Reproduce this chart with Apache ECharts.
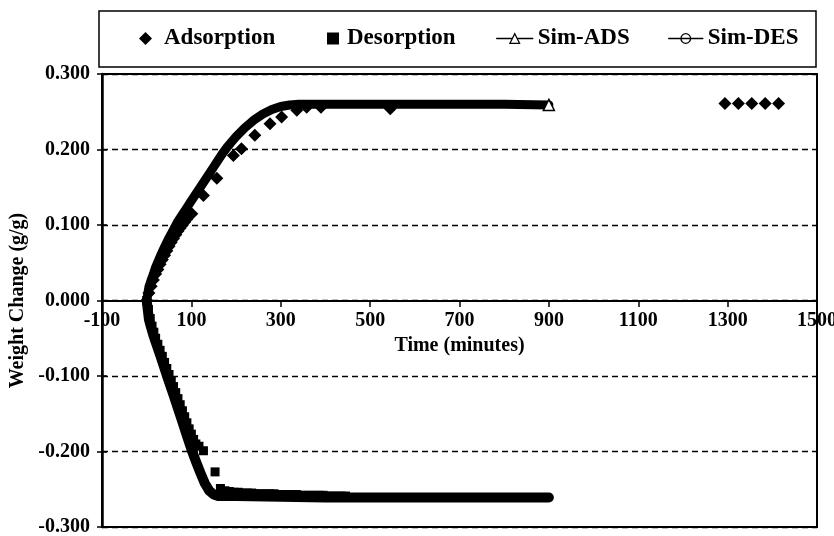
<!DOCTYPE html>
<html>
<head>
<meta charset="utf-8">
<script src="https://cdn.jsdelivr.net/npm/echarts@6/dist/echarts.min.js"></script>
<style>html,body{margin:0;padding:0;background:#fff}#c{width:834px;height:536px}</style>
</head>
<body>
<div id="c"></div>
<script>
// ---- data ----
var xTicks = [-100, 100, 300, 500, 700, 900, 1100, 1300, 1500];
var yTicks = [-0.3, -0.2, -0.1, 0, 0.1, 0.2, 0.3];

var adsT = [0,5,10,15,20,25,30,35,40,45,50,55,60,65,70,75,80,85,90,101,127,157,194,212,242,276,302,336,358,390,545,1294,1324,1354,1384,1414];
var adsW = [0,0.010,0.019,0.027,0.035,0.041,0.048,0.054,0.060,0.066,0.072,0.077,0.082,0.087,0.092,0.096,0.100,0.104,0.108,0.115,0.139,0.162,0.192,0.201,0.219,0.234,0.243,0.252,0.256,0.256,0.254,0.261,0.261,0.261,0.261,0.261];

var desT = [0,4,8,12,16,20,25,30,35,40,45,50,55,60,65,70,75,80,85,90,95,100,105,110,117,127,153,165,175,185,195,205,215,225,235,245,255,265,275,285,295,305,315,325,335,345,355,365,375,385,395,405,415,425,435,445];
var desW = [0,-0.012,-0.024,-0.034,-0.042,-0.050,-0.058,-0.066,-0.074,-0.082,-0.090,-0.098,-0.106,-0.114,-0.122,-0.130,-0.138,-0.146,-0.154,-0.162,-0.170,-0.177,-0.184,-0.190,-0.193,-0.199,-0.227,-0.249,-0.252,-0.253,-0.254,-0.254,-0.255,-0.255,-0.255,-0.256,-0.256,-0.256,-0.256,-0.256,-0.257,-0.257,-0.257,-0.257,-0.257,-0.258,-0.258,-0.258,-0.258,-0.258,-0.258,-0.259,-0.259,-0.259,-0.259,-0.259];

var simAdsT = [0,5,10,15,20,30,40,50,60,70,80,90,100,110,120,130,140,150,160,170,180,190,200,210,220,230,240,250,260,270,280,290,300,320,340,360,400,500,600,700,800,900];
var simAdsW = [0,0.018,0.027,0.035,0.044,0.058,0.071,0.083,0.094,0.105,0.114,0.123,0.132,0.141,0.150,0.159,0.168,0.177,0.186,0.195,0.203,0.210,0.217,0.223,0.229,0.234,0.239,0.243,0.247,0.250,0.253,0.255,0.257,0.259,0.260,0.260,0.260,0.260,0.260,0.260,0.260,0.259];

var simDesT = [0,5,10,15,20,30,40,50,60,70,80,90,100,110,120,130,140,150,160,200,300,400,600,900];
var simDesW = [0,-0.025,-0.036,-0.046,-0.055,-0.072,-0.090,-0.108,-0.125,-0.143,-0.161,-0.179,-0.197,-0.213,-0.228,-0.242,-0.252,-0.257,-0.259,-0.259,-0.260,-0.261,-0.261,-0.261];

var names = ['Adsorption', 'Desorption', 'Sim-ADS', 'Sim-DES'];

function pairs(t, w) { return t.map(function (v, i) { return [v, w[i]]; }); }

var FONT = 'Liberation Serif';
var txt = { fontFamily: FONT, fontWeight: 'bold', fontSize: 20, color: '#000' };
var legTxt = { fontFamily: FONT, fontWeight: 'bold', fontSize: 23, color: '#000' };

var simAdsData = simAdsT.map(function (t, i) {
  if (i === simAdsT.length - 1) return { value: [t, simAdsW[i]], symbol: 'triangle', symbolSize: 11 };
  return { value: [t, simAdsW[i]], symbol: 'none' };
});
var simDesData = simDesT.map(function (t, i) {
  return { value: [t, simDesW[i]], symbol: 'none' };
});

var chart = echarts.init(document.getElementById('c'), null, { renderer: 'canvas' });
chart.setOption({
  animation: false,
  backgroundColor: '#fff',
  grid: { left: 102, right: 17, top: 74, bottom: 9, containLabel: false, outerBoundsMode: 'none',
          show: true, borderColor: '#000', borderWidth: 2, backgroundColor: 'transparent' },
  graphic: [{ type: 'rect', shape: { x: 99, y: 11, width: 717, height: 56 }, style: { fill: 'none', stroke: '#000', lineWidth: 1.5 }, z: 0 }],
  legend: [
    { data: [names[0]], left: 139, top: 27, padding: 0, itemWidth: 13, itemHeight: 13, textStyle: Object.assign({}, legTxt, { padding: [0, 0, 0, 7] }), itemStyle: { color: '#000', opacity: 1 } },
    { data: [names[1]], left: 327, top: 27, padding: 0, itemWidth: 12, itemHeight: 12, textStyle: Object.assign({}, legTxt, { padding: [0, 0, 0, 3] }), itemStyle: { color: '#000', opacity: 1 } },
    { data: [names[2]], left: 496, top: 27, padding: 0, itemWidth: 36, itemHeight: 12, textStyle: legTxt, lineStyle: { width: 1.5, color: '#000' }, itemStyle: { color: '#fff', borderColor: '#000', borderWidth: 1.3 } },
    { data: [names[3]], left: 668, top: 27, padding: 0, itemWidth: 34, itemHeight: 12, textStyle: legTxt, lineStyle: { width: 1.5, color: '#000' }, itemStyle: { color: 'rgba(255,255,255,0)', borderColor: '#000', borderWidth: 1.3 } }
  ],
  xAxis: {
    type: 'value', min: xTicks[0], max: xTicks[xTicks.length - 1], interval: 200,
    position: 'bottom', offset: -226,
    name: 'Time (minutes)', nameLocation: 'middle', nameGap: 32, nameTextStyle: txt,
    axisLine: { onZero: false, lineStyle: { color: '#000', width: 2 } },
    axisTick: { show: true, length: 6, lineStyle: { color: '#000', width: 1.5 } },
    axisLabel: Object.assign({}, txt, { margin: 10, showMinLabel: true, showMaxLabel: true, hideOverlap: false,
      formatter: function (v) { return String(v); } }),
    splitLine: { show: false }
  },
  yAxis: [{
    type: 'value', min: yTicks[0], max: yTicks[yTicks.length - 1], interval: 0.1,
    name: 'Weight Change (g/g)', nameLocation: 'middle', nameGap: 74, nameTextStyle: txt,
    axisLine: { onZero: false, lineStyle: { color: '#000', width: 2.5 } },
    axisTick: { show: true, length: 5, lineStyle: { color: '#000', width: 1.5 } },
    axisLabel: Object.assign({}, txt, { margin: 12, formatter: function (v) { return v.toFixed(3); } }),
    splitLine: { show: true, lineStyle: { color: '#000', width: 1.3, type: [6, 4] } }
  }, {
    type: 'value', min: yTicks[0], max: yTicks[yTicks.length - 1], interval: 0.1, position: 'left', offset: 0,
    axisLine: { show: false, onZero: false }, axisLabel: { show: false }, splitLine: { show: false },
    axisTick: { show: true, inside: true, length: 5, lineStyle: { color: '#000', width: 1.5 } }
  }],
  series: [
    { name: names[0], type: 'scatter', symbol: 'diamond', symbolSize: 13, itemStyle: { color: '#000', opacity: 1 }, data: pairs(adsT, adsW), z: 3 },
    { name: names[1], type: 'scatter', symbol: 'rect', symbolSize: 9, itemStyle: { color: '#000', opacity: 1 }, data: pairs(desT, desW), z: 3 },
    { name: names[2], type: 'line', symbol: 'triangle', showSymbol: true, symbolSize: 11, smooth: false,
      lineStyle: { color: '#000', width: 9, cap: 'round', join: 'round' },
      itemStyle: { color: '#fff', borderColor: '#000', borderWidth: 1.5 }, data: simAdsData, z: 4 },
    { name: names[3], type: 'line', symbol: 'circle', showSymbol: true, symbolSize: 11, smooth: false,
      lineStyle: { color: '#000', width: 10, cap: 'round', join: 'round' },
      itemStyle: { color: 'rgba(255,255,255,0)', borderColor: '#000', borderWidth: 1.5 }, data: simDesData, z: 4 }
  ]
});
</script>
</body>
</html>
